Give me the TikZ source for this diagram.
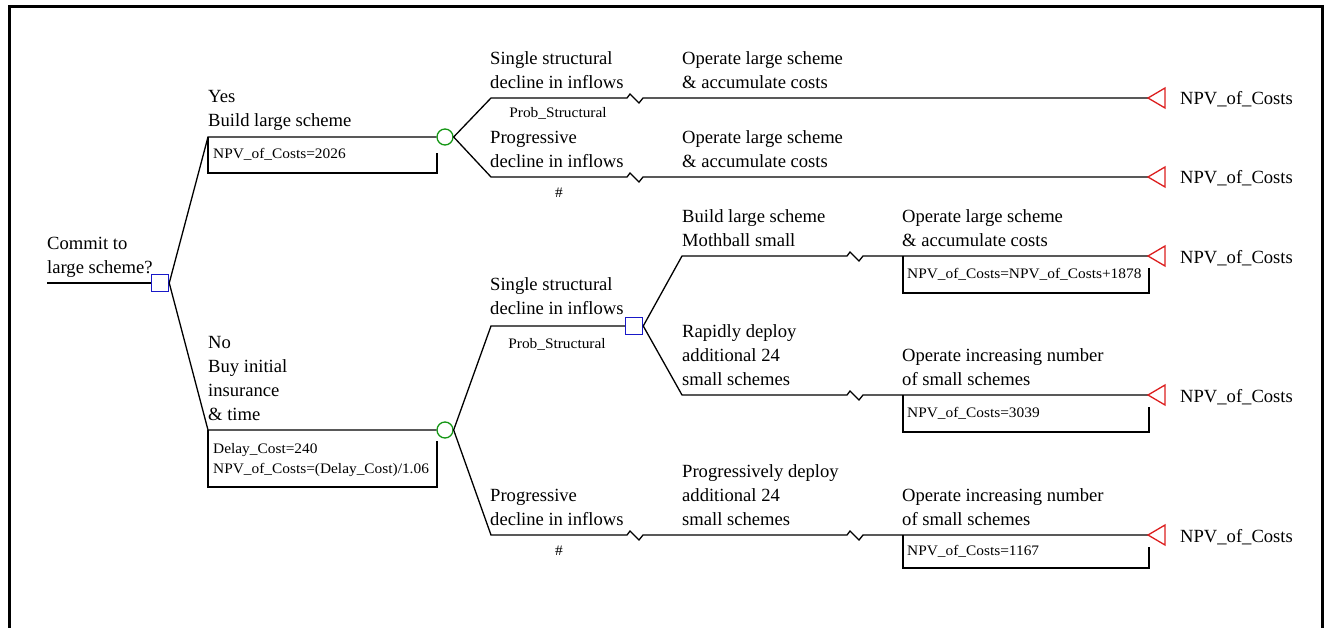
\documentclass[tikz,border=0pt]{standalone}
\usepackage{fontspec}
\setmainfont{Liberation Serif}
\newfontfamily\smallfam[FakeStretch=1.06]{Liberation Serif}
\definecolor{decblue}{RGB}{25,25,200}
\definecolor{chgreen}{RGB}{20,150,20}
\definecolor{termred}{RGB}{220,30,30}
\newcommand{\mainf}{\fontsize{18.6}{24}\selectfont}
\newcommand{\smallf}{\smallfam\fontsize{14.5}{21}\selectfont}
\tikzset{
  branch/.style={line width=1.3pt, black},
  decision/.style={draw=decblue, rectangle, minimum size=17pt, inner sep=0pt, line width=1.5pt},
  chance/.style={draw=chgreen, circle, minimum size=16pt, inner sep=0pt, line width=1.3pt},
  term/.style={draw=termred, line width=1.3pt, line join=miter},
  lbl/.style={anchor=south west, inner sep=0pt, align=left, text depth=0pt, font=\mainf},
  smalllbl/.style={inner sep=0pt, font=\smallf},
  boxtxt/.style={anchor=base west, inner sep=0pt, font=\smallf},
  termlbl/.style={anchor=base west, inner sep=0pt, font=\mainf},
  frame/.style={line width=3pt, black}
}
\begin{document}
\begin{tikzpicture}[x=1pt,y=-1pt]
\useasboundingbox (0,0) rectangle (1329,628);
% frame
\coordinate (fbl) at (9,640);
\coordinate (ftl) at (9,7);
\coordinate (ftr) at (1322,7);
\coordinate (fbr) at (1322,640);
\draw[frame] (fbl) -- (ftl) -- (ftr) -- (fbr);

% root
\coordinate (r0) at (47,283);
\node[decision] (d1) at (160,283) {};
\draw[branch] (r0) -- (d1.west);

% Yes branch
\coordinate (y1) at (208,137);
\node[chance] (c1) at (445,137) {};
\draw[branch] (d1.east) -- (y1) -- (c1.west);
\coordinate (b1br) at (437,173);
\coordinate (b1rt) at (437,153);
\draw[branch] (y1) |- (b1br) -- (b1rt);

% No branch
\coordinate (n1) at (208,430);
\node[chance] (c2) at (445,430) {};
\draw[branch] (d1.east) -- (n1) -- (c2.west);
\coordinate (b2br) at (437,487);
\coordinate (b2rt) at (437,441);
\draw[branch] (n1) |- (b2br) -- (b2rt);

% top chance branches
\coordinate (a1) at (491,98);
\coordinate (z1) at (627,98);
\coordinate (t1) at (1148,98);
\draw[branch] (c1.east) -- (a1) -- (z1) -- ++(3,-4) -- ++(9,9) -- ++(4,-5) -- (t1);
\coordinate (a2) at (491,177);
\coordinate (z2) at (627,177);
\coordinate (t2) at (1148,177);
\draw[branch] (c1.east) -- (a2) -- (z2) -- ++(3,-4) -- ++(9,9) -- ++(4,-5) -- (t2);

% lower chance branches
\coordinate (a3) at (491,326);
\node[decision] (d2) at (634,326) {};
\draw[branch] (c2.east) -- (a3) -- (d2.west);
\coordinate (a4) at (491,535);
\coordinate (z5a) at (627,535);
\coordinate (z5b) at (847,535);
\coordinate (t5) at (1148,535);
\draw[branch] (c2.east) -- (a4) -- (z5a) -- ++(3,-4) -- ++(9,9) -- ++(4,-5) -- (z5b) -- ++(3,-4) -- ++(9,9) -- ++(4,-5) -- (t5);

% second decision branches
\coordinate (e1) at (682,256);
\coordinate (z3) at (847,256);
\coordinate (t3) at (1148,256);
\draw[branch] (d2.east) -- (e1) -- (z3) -- ++(3,-4) -- ++(9,9) -- ++(4,-5) -- (t3);
\coordinate (e2) at (682,395);
\coordinate (z4) at (847,395);
\coordinate (t4) at (1148,395);
\draw[branch] (d2.east) -- (e2) -- (z4) -- ++(3,-4) -- ++(9,9) -- ++(4,-5) -- (t4);

% boxes on right
\coordinate (bx3tl) at (903,256);
\coordinate (bx3br) at (1149,293);
\coordinate (bx3rt) at (1149,268);
\draw[branch] (bx3tl) |- (bx3br) -- (bx3rt);
\coordinate (bx4tl) at (903,395);
\coordinate (bx4br) at (1149,432);
\coordinate (bx4rt) at (1149,407);
\draw[branch] (bx4tl) |- (bx4br) -- (bx4rt);
\coordinate (bx5tl) at (903,535);
\coordinate (bx5br) at (1149,568);
\coordinate (bx5rt) at (1149,547);
\draw[branch] (bx5tl) |- (bx5br) -- (bx5rt);

% terminals
\foreach \t in {t1,t2,t3,t4,t5}{
  \draw[term] (\t) -- ++(17,-10) -- ++(0,20) -- cycle;
}
\node[termlbl] (v1) at (1180,105) {NPV\_of\_Costs};
\node[termlbl] (v2) at (1180,184) {NPV\_of\_Costs};
\node[termlbl] (v3) at (1180,263) {NPV\_of\_Costs};
\node[termlbl] (v4) at (1180,402) {NPV\_of\_Costs};
\node[termlbl] (v5) at (1180,542) {NPV\_of\_Costs};

% labels
\node[lbl] (L0) at (47,274) {Commit to\\large scheme?};
\node[lbl] (L1) at (208,127) {Yes\\Build large scheme};
\node[lbl] (L2) at (208,421) {No\\Buy initial\\insurance\\\& time};
\node[lbl] (L3) at (490,89) {Single structural\\decline in inflows};
\node[lbl] (L4) at (682,89) {Operate large scheme\\\& accumulate costs};
\node[lbl] (L5) at (490,168) {Progressive\\decline in inflows};
\node[lbl] (L6) at (682,168) {Operate large scheme\\\& accumulate costs};
\node[lbl] (L7) at (490,315) {Single structural\\decline in inflows};
\node[lbl] (L8) at (682,247) {Build large scheme\\Mothball small};
\node[lbl] (L9) at (902,247) {Operate large scheme\\\& accumulate costs};
\node[lbl] (L10) at (682,386) {Rapidly deploy\\additional 24\\small schemes};
\node[lbl] (L11) at (902,386) {Operate increasing number\\of small schemes};
\node[lbl] (L12) at (490,526) {Progressive\\decline in inflows};
\node[lbl] (L13) at (682,526) {Progressively deploy\\additional 24\\small schemes};
\node[lbl] (L14) at (902,526) {Operate increasing number\\of small schemes};

% small labels
\node[smalllbl, anchor=base] (p1) at (558,118) {Prob\_Structural};
\node[smalllbl] (h1) at (559,193) {\#};
\node[smalllbl, anchor=base] (p2) at (557,348) {Prob\_Structural};
\node[smalllbl] (h2) at (559,551) {\#};

% box texts
\node[boxtxt] (k1) at (213,159) {NPV\_of\_Costs=2026};
\node[boxtxt] (k2) at (213,453) {Delay\_Cost=240};
\node[boxtxt] (k3) at (213,473) {NPV\_of\_Costs=(Delay\_Cost)/1.06};
\node[boxtxt] (k4) at (907,278) {NPV\_of\_Costs=NPV\_of\_Costs+1878};
\node[boxtxt] (k5) at (907,417) {NPV\_of\_Costs=3039};
\node[boxtxt] (k6) at (907,555) {NPV\_of\_Costs=1167};
\end{tikzpicture}
\end{document}
